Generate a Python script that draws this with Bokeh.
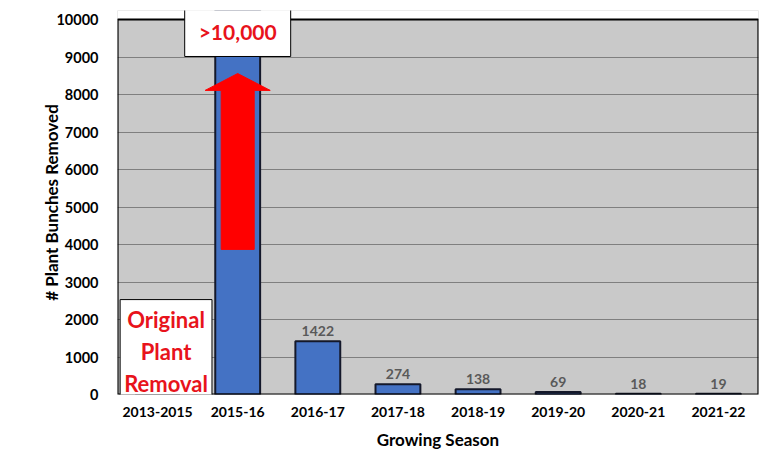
from bokeh.plotting import figure
from bokeh.models import ColumnDataSource, FactorRange, Range1d, Label, FixedTicker, BoxAnnotation
from bokeh.core.properties import value
from bokeh.embed import file_html
from bokeh.resources import INLINE

seasons = ["2013-2015", "2015-16", "2016-17", "2017-18", "2018-19", "2019-20", "2020-21", "2021-22"]
removed = [0, 10500, 1422, 274, 138, 69, 18, 19]
labels = ["", "", "1422", "274", "138", "69", "18", "19"]
y_ticks = list(range(0, 10001, 1000))
y_max = 10000

FONT = "Lato"

p = figure(x_range=FactorRange(factors=seasons, range_padding=0), y_range=Range1d(0, 10240),
           frame_width=641, frame_height=384, output_backend="svg", toolbar_location=None,
           min_border_left=117, min_border_top=10, min_border_right=8, min_border_bottom=56)
p.background_fill_color = "#C9C9C9"
p.border_fill_color = "white"
p.outline_line_color = None

src = ColumnDataSource(dict(x=seasons, top=removed, lab=labels))
p.vbar(x="x", top="top", width=0.56, source=src, fill_color="#4472C4",
       line_color="#14182a", line_width=2)
p.text(x="x", y="top", text="lab", source=src, text_align="center", text_baseline="bottom",
       y_offset=-5, text_font=value(FONT), text_font_style="bold", text_font_size="14px",
       text_color="#595959")

# red arrow on 2015-16 bar
cx = seasons.index("2015-16") + 0.5
shaft_hw, head_hw = 0.206, 0.406
y0, yb, yt = 3870, 8110, 8560
p.patch(x=[cx - shaft_hw, cx + shaft_hw, cx + shaft_hw, cx + head_hw, cx, cx - head_hw, cx - shaft_hw],
        y=[y0, y0, yb, yb, yt, yb, yb], fill_color="#FF0000", line_color="#FF0000", line_width=1)

p.xgrid.grid_line_color = None
p.ygrid.grid_line_color = "#7F7F7F"
p.ygrid.grid_line_width = 1.2
p.yaxis.ticker = FixedTicker(ticks=y_ticks)

for ax in (p.xaxis, p.yaxis):
    ax.major_tick_line_color = None
    ax.minor_tick_line_color = None
    ax.axis_line_color = None
    ax.major_label_text_font = FONT
    ax.major_label_text_font_style = "bold"
    ax.major_label_text_color = "black"
    ax.axis_label_text_font = FONT
    ax.axis_label_text_font_style = "bold"
    ax.axis_label_text_color = "black"

p.yaxis.major_label_text_font_size = "14.5px"
p.xaxis.major_label_text_font_size = "14px"
p.xaxis.major_label_standoff = 6
p.yaxis.major_label_standoff = 13
p.xaxis.axis_label = "Growing Season"
p.xaxis.axis_label_text_font_size = "17px"
p.xaxis.axis_label_standoff = 9
p.yaxis.axis_label = "# Plant Bunches Removed"
p.yaxis.axis_label_text_font_size = "17px"
p.yaxis.axis_label_standoff = -9

# white area above the 10000 line, then the plot border
p.add_layout(BoxAnnotation(bottom=y_max, fill_color="white", fill_alpha=1.0, line_color=None))
p.add_layout(BoxAnnotation(left=0, right=len(seasons), bottom=0, top=y_max, fill_color=None,
                           fill_alpha=0, line_color="black", line_width=2.2, line_alpha=1.0))

top_lab = Label(x=cx, y=9667, text=">10,000", text_align="center", text_baseline="middle",
                text_font=FONT, text_font_style="bold", text_font_size="21px", text_color="#E8131B",
                background_fill_color="white", border_line_color="black", border_line_width=1,
                padding=dict(left=14, right=14, top=12, bottom=12))
p.add_layout(top_lab)

orig_lab = Label(x=0.606, y=1147, text="Original\nPlant\nRemoval", text_align="center",
                 text_baseline="middle", text_font=FONT, text_font_style="bold",
                 text_font_size="22px", text_color="#E8131B", text_line_height=1.2,
                 background_fill_color="white", border_line_color="black", border_line_width=1,
                 padding=dict(left=4, right=4, top=6, bottom=6))
p.add_layout(orig_lab)

open("out.html", "w").write(file_html(p, INLINE))
